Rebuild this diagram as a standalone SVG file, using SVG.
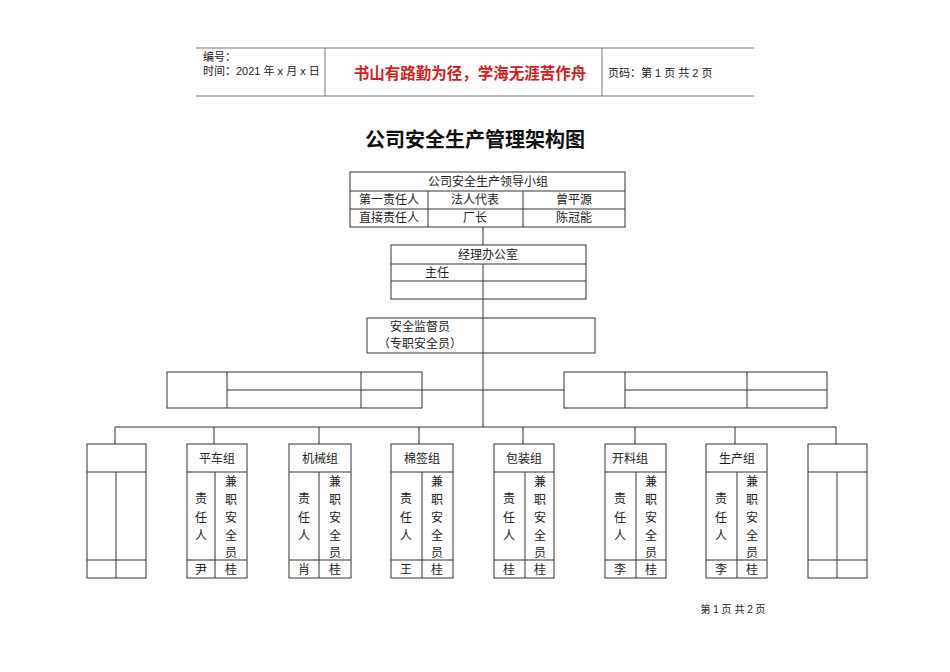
<svg xmlns="http://www.w3.org/2000/svg" width="950" height="672" viewBox="0 0 950 672">
<style>
text{font-family:"Liberation Sans","Noto Sans CJK SC",sans-serif;fill:#222;font-size:12px}
.b{fill:#fff;stroke:#333;stroke-width:1}
.l{stroke:#333;stroke-width:1;fill:none}
.c{text-anchor:middle}
.h{font-size:11px}
</style>
<rect width="950" height="672" fill="#fff"/>
<g id="header">
<path class="l" d="M196 48H754M196 96H754M325 48V96M602 48V96" style="stroke:#777"/>
<text x="203" y="61" class="h">编号：</text>
<text x="203" y="75" class="h">时间：2021 年 x 月 x 日</text>
<text x="470" y="79" class="c" style="font-size:15.5px;fill:#d62020;font-weight:bold">书山有路勤为径，学海无涯苦作舟</text>
<text x="608" y="77" class="h">页码：第 1 页  共 2 页</text>
</g>
<text x="475" y="147" class="c" style="font-size:20px;font-weight:bold;fill:#111">公司安全生产管理架构图</text>
<g id="connectors">
<path class="l" d="M483 227V427M422 390H564M115 427H836M115 427V444M214 427V444M319 427V444M419 427V444M523 427V444M635 427V444M735 427V444M836 427V444"/>
</g>
<g id="leader">
<rect class="b" x="350" y="172" width="275" height="55"/>
<path class="l" d="M350 191H625M350 209H625M428 191V227M523 191V227"/>
<text x="488" y="186" class="c">公司安全生产领导小组</text>
<text x="389" y="204" class="c">第一责任人</text><text x="475" y="204" class="c">法人代表</text><text x="574" y="204" class="c">曾平源</text>
<text x="389" y="222" class="c">直接责任人</text><text x="475" y="222" class="c">厂长</text><text x="574" y="222" class="c">陈冠能</text>
</g>
<g id="office">
<rect class="b" x="391" y="245" width="195" height="54"/>
<path class="l" d="M391 264H586M391 281H586M483 264V299"/>
<text x="488" y="259" class="c">经理办公室</text>
<text x="437" y="277" class="c">主任</text>
</g>
<g id="supervisor">
<rect class="b" x="367" y="318" width="228" height="35"/>
<path class="l" d="M483 318V353"/>
<text x="420" y="331" class="c">安全监督员</text>
<text x="420" y="348" class="c">（专职安全员）</text>
</g>
<g id="leftbox">
<rect class="b" x="167" y="372" width="255" height="36"/>
<path class="l" d="M227 372V408M361 372V408M227 390H422"/>
</g>
<g id="rightbox">
<rect class="b" x="564" y="372" width="263" height="36"/>
<path class="l" d="M625 372V408M747 372V408M625 390H827"/>
</g>
<g id="g1"><rect class="b" x="87" y="444" width="59" height="134"/><path class="l" d="M87 472H146M87 560H146M116 472V578"/></g>
<g id="g8"><rect class="b" x="808" y="444" width="59" height="134"/><path class="l" d="M808 472H867M808 560H867M837 472V578"/></g>
<g id="g2"><rect class="b" x="187" y="444" width="60" height="134"/><path class="l" d="M187 472H247M187 560H247M215 472V578"/>
<text x="217" y="463" class="c">平车组</text>
<text x="201" y="503" class="c">责</text><text x="201" y="522" class="c">任</text><text x="201" y="540" class="c">人</text>
<text x="231" y="486" class="c">兼</text><text x="231" y="504" class="c">职</text><text x="231" y="522" class="c">安</text><text x="231" y="540" class="c">全</text><text x="231" y="557" class="c">员</text>
<text x="201" y="574" class="c">尹</text><text x="231" y="574" class="c">桂</text></g>
<g id="g3"><rect class="b" x="289" y="444" width="62" height="134"/><path class="l" d="M289 472H351M289 560H351M319 472V578"/>
<text x="320" y="463" class="c">机械组</text>
<text x="304" y="503" class="c">责</text><text x="304" y="522" class="c">任</text><text x="304" y="540" class="c">人</text>
<text x="335" y="486" class="c">兼</text><text x="335" y="504" class="c">职</text><text x="335" y="522" class="c">安</text><text x="335" y="540" class="c">全</text><text x="335" y="557" class="c">员</text>
<text x="304" y="574" class="c">肖</text><text x="335" y="574" class="c">桂</text></g>
<g id="g4"><rect class="b" x="391" y="444" width="62" height="134"/><path class="l" d="M391 472H453M391 560H453M422 472V578"/>
<text x="422" y="463" class="c">棉签组</text>
<text x="406" y="503" class="c">责</text><text x="406" y="522" class="c">任</text><text x="406" y="540" class="c">人</text>
<text x="437" y="486" class="c">兼</text><text x="437" y="504" class="c">职</text><text x="437" y="522" class="c">安</text><text x="437" y="540" class="c">全</text><text x="437" y="557" class="c">员</text>
<text x="406" y="574" class="c">王</text><text x="437" y="574" class="c">桂</text></g>
<g id="g5"><rect class="b" x="494" y="444" width="60" height="134"/><path class="l" d="M494 472H554M494 560H554M525 472V578"/>
<text x="524" y="463" class="c">包装组</text>
<text x="509" y="503" class="c">责</text><text x="509" y="522" class="c">任</text><text x="509" y="540" class="c">人</text>
<text x="540" y="486" class="c">兼</text><text x="540" y="504" class="c">职</text><text x="540" y="522" class="c">安</text><text x="540" y="540" class="c">全</text><text x="540" y="557" class="c">员</text>
<text x="509" y="574" class="c">桂</text><text x="540" y="574" class="c">桂</text></g>
<g id="g6"><rect class="b" x="605" y="444" width="61" height="134"/><path class="l" d="M605 472H666M605 560H666M636 472V578"/>
<text x="630" y="463" class="c">开料组</text>
<text x="620" y="503" class="c">责</text><text x="620" y="522" class="c">任</text><text x="620" y="540" class="c">人</text>
<text x="651" y="486" class="c">兼</text><text x="651" y="504" class="c">职</text><text x="651" y="522" class="c">安</text><text x="651" y="540" class="c">全</text><text x="651" y="557" class="c">员</text>
<text x="620" y="574" class="c">李</text><text x="651" y="574" class="c">桂</text></g>
<g id="g7"><rect class="b" x="706" y="444" width="61" height="134"/><path class="l" d="M706 472H767M706 560H767M737 472V578"/>
<text x="737" y="463" class="c">生产组</text>
<text x="721" y="503" class="c">责</text><text x="721" y="522" class="c">任</text><text x="721" y="540" class="c">人</text>
<text x="752" y="486" class="c">兼</text><text x="752" y="504" class="c">职</text><text x="752" y="522" class="c">安</text><text x="752" y="540" class="c">全</text><text x="752" y="557" class="c">员</text>
<text x="721" y="574" class="c">李</text><text x="752" y="574" class="c">桂</text></g>
<text x="733" y="613" class="c" style="font-size:10px">第 1 页 共 2 页</text>
</svg>
